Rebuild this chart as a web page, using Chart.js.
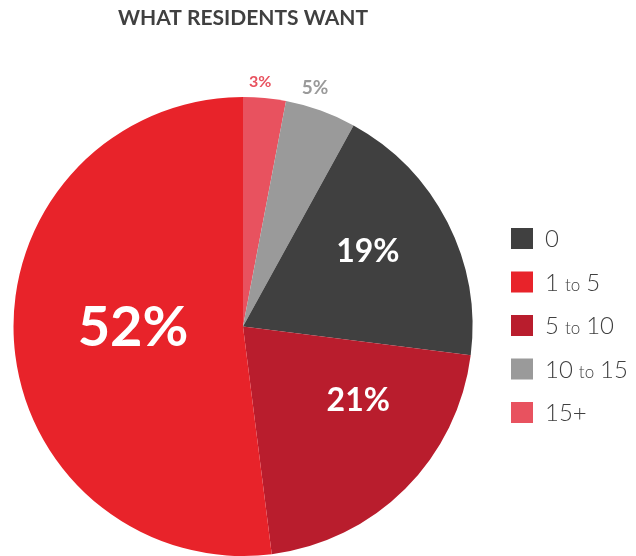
<!DOCTYPE html>
<html>
<head>
<meta charset="utf-8">
<script src="https://cdn.jsdelivr.net/npm/chart.js@4/dist/chart.umd.min.js"></script>
<style>
  html, body { margin: 0; padding: 0; background: #fff; }
  #wrap { width: 636px; height: 556px; }
</style>
</head>
<body>
<div id="wrap"><canvas id="chart"></canvas></div>
<script>
// slices in drawing order, clockwise from 12 o'clock
var categories = ['15+', '10 to 15', '0', '5 to 10', '1 to 5'];
var shares = [3, 5, 19, 21, 52];
var colors = ['#e8525f', '#9a9a9a', '#404040', '#b91d2d', '#e8232a'];
// legend reads top to bottom in this order
var legendOrder = ['0', '1 to 5', '5 to 10', '10 to 15', '15+'];

var FONT = 'Lato, "Open Sans", sans-serif';

// hand nudges (px) so the labels sit where the designer put them
var labelShift = {
  '15+': [-6, -1],
  '10 to 15': [-12, -6],
  '0': [-4, -10],
  '5 to 10': [13, -29],
  '1 to 5': [0, -8]
};

// percentages: big white ones inside, small coloured ones outside the thin slices
var pctLabels = {
  id: 'pctLabels',
  afterDatasetsDraw: function(chart) {
    var ctx = chart.ctx;
    var meta = chart.getDatasetMeta(0);
    meta.data.forEach(function(arc, i) {
      var v = shares[i];
      var p = arc.getProps(['x', 'y', 'startAngle', 'endAngle', 'outerRadius'], true);
      var mid = (p.startAngle + p.endAngle) / 2;
      var size, r, col;
      if (v >= 40)      { size = 56; r = 0.48; col = '#fff'; }
      else if (v >= 10) { size = 32; r = 0.63; col = '#fff'; }
      else if (v >= 5)  { size = 19; r = 1.08; col = colors[i]; }
      else              { size = 16; r = 1.07; col = colors[i]; }
      var d = p.outerRadius * r;
      var s = labelShift[categories[i]] || [0, 0];
      ctx.save();
      ctx.font = 'bold ' + size + 'px ' + FONT;
      ctx.fillStyle = col;
      ctx.textAlign = 'center';
      ctx.textBaseline = 'alphabetic';
      // centre the cap height on the point rather than the em box
      ctx.fillText(v + '%',
        p.x + Math.cos(mid) * d + s[0],
        p.y + Math.sin(mid) * d + s[1] + size * 0.36);
      ctx.restore();
    });
  }
};

// legend with the word "to" set smaller than the numbers
var sideLegend = {
  id: 'sideLegend',
  afterDraw: function(chart) {
    var ctx = chart.ctx;
    var x = 511, y0 = 228, step = 43.5;
    legendOrder.forEach(function(name, k) {
      var i = categories.indexOf(name);
      var y = y0 + k * step;
      ctx.save();
      ctx.fillStyle = colors[i];
      ctx.fillRect(x, y, 22, 21);
      ctx.fillStyle = '#404040';
      ctx.textBaseline = 'alphabetic';
      ctx.textAlign = 'left';
      var tx = x + 34, base = y + 19;
      name.split(' ').forEach(function(part, j) {
        if (j > 0) tx += 6;
        ctx.font = (part === 'to' ? '300 17px ' : '300 24px ') + FONT;
        ctx.fillText(part, tx, base);
        tx += ctx.measureText(part).width;
      });
      ctx.restore();
    });
  }
};

new Chart(document.getElementById('chart'), {
  type: 'pie',
  data: {
    labels: categories,
    datasets: [{
      data: shares,
      backgroundColor: colors,
      borderWidth: 0
    }]
  },
  options: {
    responsive: true,
    maintainAspectRatio: false,
    animation: false,
    layout: { padding: { left: 13, right: 163, top: 0, bottom: 0 } },
    plugins: {
      legend: { display: false },
      tooltip: { enabled: false },
      title: {
        display: true,
        text: 'WHAT RESIDENTS WANT',
        color: '#404040',
        font: { family: FONT, size: 21, weight: 'bold', lineHeight: 1.2 },
        padding: { top: 5.5, bottom: 66.3 }
      }
    }
  },
  plugins: [pctLabels, sideLegend]
});
</script>
</body>
</html>
